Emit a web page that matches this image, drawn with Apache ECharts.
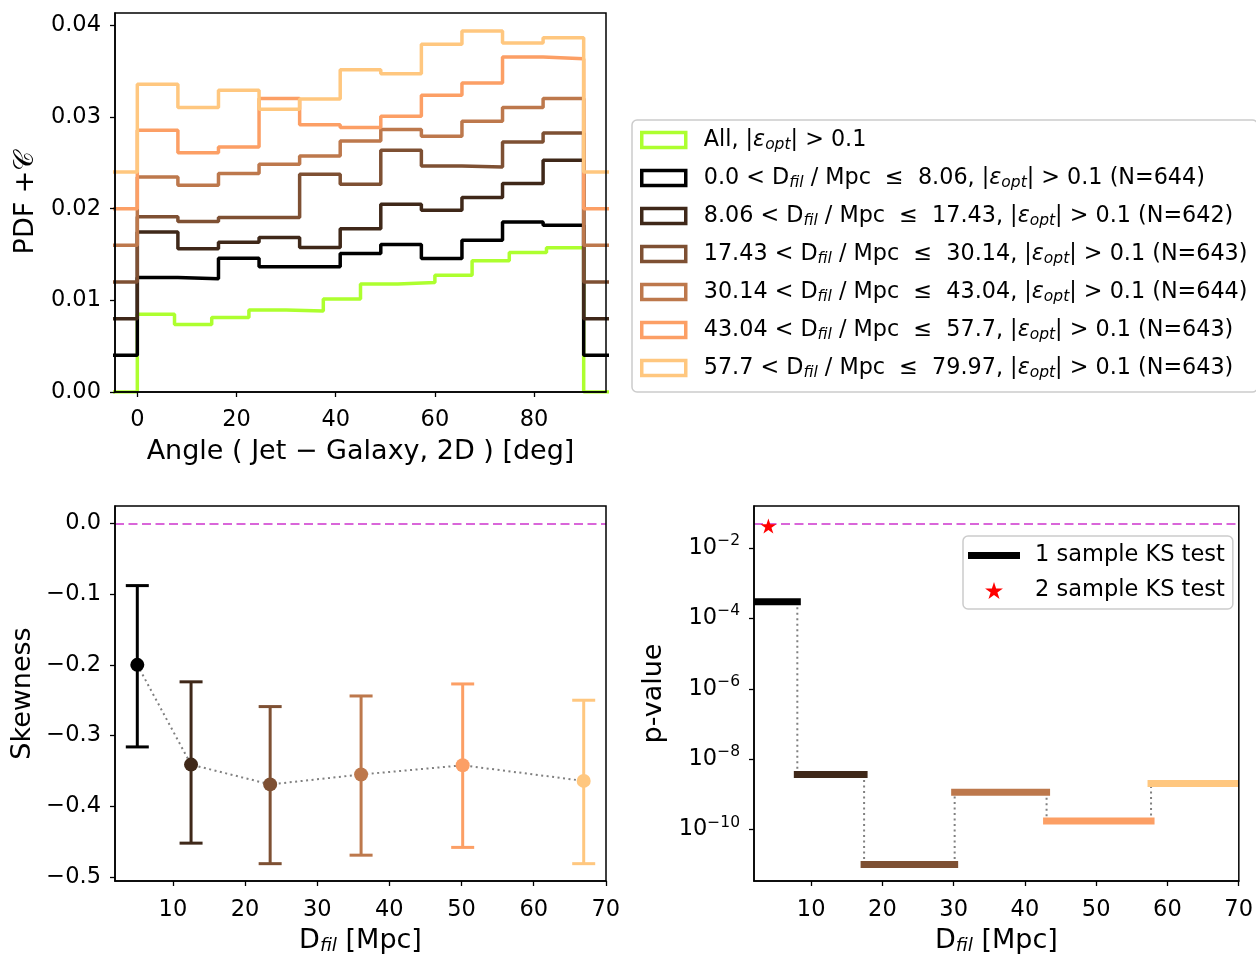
<!DOCTYPE html>
<html><head><meta charset="utf-8">
<script src="https://cdn.jsdelivr.net/npm/echarts@6/dist/echarts.min.js"></script>
<style>html,body{margin:0;padding:0;background:#fff}#c{width:1256px;height:957px}</style>
</head><body><div id="c"></div>
<script>
// ---------------- data ----------------
const angleRange = [0, 90];
const angleTicks = [0, 20, 40, 60, 80];
const pdfTicks = [0, 0.01, 0.02, 0.03, 0.04];
const histNames = [
  'All, |ε_opt| > 0.1',
  '0.0 < D_fil / Mpc  ≤  8.06, |ε_opt| > 0.1 (N=644)',
  '8.06 < D_fil / Mpc  ≤  17.43, |ε_opt| > 0.1 (N=642)',
  '17.43 < D_fil / Mpc  ≤  30.14, |ε_opt| > 0.1 (N=643)',
  '30.14 < D_fil / Mpc  ≤  43.04, |ε_opt| > 0.1 (N=644)',
  '43.04 < D_fil / Mpc  ≤  57.7, |ε_opt| > 0.1 (N=643)',
  '57.7 < D_fil / Mpc  ≤  79.97, |ε_opt| > 0.1 (N=643)'
];
const pdfOffsets = [0, 0.004, 0.008, 0.012, 0.016, 0.020, 0.024];
const pdfAll = [0.00847, 0.00737, 0.00814, 0.00894, 0.00883, 0.01014, 0.01177, 0.01195, 0.01275, 0.01431, 0.01522, 0.01573];
const pdfD1 = [0.0085, 0.00835, 0.0106, 0.00966, 0.00966, 0.01111, 0.01209, 0.01057, 0.01257, 0.01456, 0.0142];
const pdfD2 = [0.00947, 0.00762, 0.00835, 0.00886, 0.00777, 0.0098, 0.01249, 0.01184, 0.01322, 0.01474, 0.01729];
const pdfD3 = [0.00711, 0.0066, 0.00704, 0.00704, 0.01176, 0.01067, 0.01438, 0.01267, 0.01256, 0.01528, 0.01627];
const pdfD4 = [0.00747, 0.00656, 0.00783, 0.00885, 0.00976, 0.01139, 0.01263, 0.0119, 0.01354, 0.01503, 0.01601];
const pdfD5 = [0.00856, 0.00609, 0.00674, 0.01201, 0.00917, 0.00885, 0.01008, 0.01237, 0.01371, 0.01655, 0.01637];
const pdfD6 = [0.00957, 0.00703, 0.00892, 0.00684, 0.00797, 0.01117, 0.01073, 0.01393, 0.01538, 0.01407, 0.01466];

const dfilTicks = [10, 20, 30, 40, 50, 60, 70];
const dfilMean = [5.07, 12.52, 23.48, 36.08, 50.16, 66.93];
const skewness = [-0.200, -0.341, -0.369, -0.355, -0.342, -0.364];
const skewUpper = [-0.088, -0.224, -0.259, -0.244, -0.227, -0.250];
const skewLower = [-0.316, -0.452, -0.481, -0.469, -0.458, -0.481];
const skewTicks = [0, -0.1, -0.2, -0.3, -0.4, -0.5];
const skewRef = 0;

const dfilEdges = [0, 8.06, 17.43, 30.14, 43.04, 57.7, 79.97];
const pvalOne = [2.97e-4, 3.66e-9, 1.02e-11, 1.15e-9, 1.75e-10, 2.05e-9];
const pvalTwoX = [4.0];
const pvalTwo = [0.0425];
const pThreshold = 0.05;
const pTicks = [1e-10, 1e-8, 1e-6, 1e-4, 1e-2];
const ksNames = ['1 sample KS test', '2 sample KS test'];

// ---------------- styles ----------------
const FONT = 'DejaVu Sans';
const copper = ['#000000', '#3f2819', '#7e5033', '#bd784c', '#fc9f65', '#ffc77f'];
const histColors = ['#adff2f'].concat(copper);
const MAG = '#d966d9';
const STAR = 'path://M100 0 L122.45 69.1 L195.1 69.1 L136.3 111.8 L158.8 180.9 L100 138.2 L41.2 180.9 L63.7 111.8 L4.9 69.1 L77.55 69.1 Z';
const TICK = 22.5, NAME = 27, LEG = 22.3;

function richify(s) {
  return s.split(/(D_fil|ε_opt)/).filter(t => t.length).map(t =>
    t === 'D_fil' ? '{r|D}{sub|fil}' : (t === 'ε_opt' ? '{it|ε}{sub|opt}' : '{r|' + t + '}')).join('');
}
const richLeg = {
  r: {fontFamily: FONT, fontSize: LEG, lineHeight: 26, color: '#000'},
  it: {fontFamily: FONT, fontSize: LEG, lineHeight: 26, fontStyle: 'italic', color: '#000'},
  sub: {fontFamily: FONT, fontSize: 15.5, lineHeight: 13, fontStyle: 'italic', verticalAlign: 'bottom', color: '#000'},
  sp: {width: 13}
};

function stepPoints(vals, C) {
  const w = (angleRange[1] - angleRange[0]) / vals.length;
  const pts = [[-20, C], [angleRange[0], C]];
  vals.forEach((v, i) => {
    pts.push([angleRange[0] + i * w, v + C], [angleRange[0] + (i + 1) * w, v + C]);
  });
  pts.push([angleRange[1], C], [120, C]);
  return pts;
}

function axisCommon(extra) {
  return Object.assign({
    splitLine: {show: false},
    axisLine: {onZero: false, lineStyle: {color: '#000', width: 1.5}},
    axisTick: {length: 5, lineStyle: {color: '#000', width: 1.3}},
    axisLabel: {fontFamily: FONT, fontSize: TICK, color: '#000'},
    nameTextStyle: {fontFamily: FONT, fontSize: NAME, color: '#000'},
    nameLocation: 'middle', z: 10
  }, extra);
}
const dfilName = '{a|D}{s|fil}{a| [Mpc]}';
const dfilRich = {a: {fontFamily: FONT, fontSize: NAME, lineHeight: 30, color: '#000'},
  s: {fontFamily: FONT, fontSize: 18.5, lineHeight: 17, fontStyle: 'italic', verticalAlign: 'bottom', color: '#000'}};

const hists = [pdfAll, pdfD1, pdfD2, pdfD3, pdfD4, pdfD5, pdfD6];
const series = [];
hists.forEach((h, k) => {
  series.push({
    type: 'line', name: histNames[k], xAxisIndex: 0, yAxisIndex: 0,
    data: stepPoints(h, pdfOffsets[k]), showSymbol: false, symbol: 'none',
    lineStyle: {color: histColors[k], width: 3.5}, itemStyle: {color: histColors[k]},
    z: 2 + k * 0.01, clip: true
  });
});

// skewness: dotted connector
series.push({
  type: 'line', xAxisIndex: 1, yAxisIndex: 1, symbol: 'none',
  data: dfilMean.map((x, i) => [x, skewness[i]]),
  lineStyle: {color: '#808080', width: 2, type: [2, 3.5]}, z: 2,
  markLine: {silent: true, symbol: 'none', label: {show: false},
    lineStyle: {color: MAG, width: 2.2, type: [9, 4.5]}, data: [{yAxis: skewRef}]}
});
series.push({
  type: 'custom', xAxisIndex: 1, yAxisIndex: 1, z: 3,
  data: dfilMean.map((x, i) => [x, skewLower[i], skewUpper[i], i]),
  encode: {x: 0, y: [1, 2]},
  renderItem: function (params, api) {
    const x = api.value(0), lo = api.value(1), hi = api.value(2), i = api.value(3);
    const a = api.coord([x, lo]), b = api.coord([x, hi]);
    const cap = 11.5, col = copper[i];
    const st = {stroke: col, lineWidth: 3};
    return {type: 'group', children: [
      {type: 'line', shape: {x1: a[0], y1: a[1], x2: b[0], y2: b[1]}, style: st},
      {type: 'line', shape: {x1: a[0] - cap, y1: a[1], x2: a[0] + cap, y2: a[1]}, style: st},
      {type: 'line', shape: {x1: b[0] - cap, y1: b[1], x2: b[0] + cap, y2: b[1]}, style: st}
    ]};
  }
});
series.push({
  type: 'scatter', xAxisIndex: 1, yAxisIndex: 1, z: 4, symbolSize: 14,
  data: dfilMean.map((x, i) => ({value: [x, skewness[i]], itemStyle: {color: copper[i], opacity: 1}}))
});

// p-values
series.push({
  type: 'custom', xAxisIndex: 2, yAxisIndex: 2, z: 2, clip: true,
  data: pvalOne.slice(1).map((p, i) => [dfilEdges[i + 1], pvalOne[i], p]),
  encode: {x: 0, y: [1, 2]},
  renderItem: function (params, api) {
    const a = api.coord([api.value(0), api.value(1)]), b = api.coord([api.value(0), api.value(2)]);
    return {type: 'line', shape: {x1: a[0], y1: a[1], x2: b[0], y2: b[1]},
      style: {stroke: '#808080', lineWidth: 2, lineDash: [2, 3.5]}};
  }
});
series.push({
  type: 'custom', name: ksNames[0], xAxisIndex: 2, yAxisIndex: 2, z: 3, clip: true,
  itemStyle: {color: '#000'},
  data: pvalOne.map((p, i) => [dfilEdges[i], dfilEdges[i + 1], p, i]),
  encode: {x: [0, 1], y: 2},
  renderItem: function (params, api) {
    const a = api.coord([api.value(0), api.value(2)]), b = api.coord([api.value(1), api.value(2)]);
    return {type: 'line', shape: {x1: a[0], y1: a[1], x2: b[0], y2: b[1]},
      style: {stroke: copper[api.value(3)], lineWidth: 7, lineCap: 'square'}};
  },
  markLine: {silent: true, symbol: 'none', label: {show: false},
    lineStyle: {color: MAG, width: 2.2, type: [9, 4.5]}, data: [{yAxis: pThreshold}]}
});
series.push({
  type: 'scatter', name: ksNames[1], xAxisIndex: 2, yAxisIndex: 2, z: 5,
  symbol: STAR, symbolSize: [16, 15], itemStyle: {color: '#ff0000', opacity: 1},
  data: pvalTwoX.map((x, i) => [x, pvalTwo[i]])
});

const option = {
  animation: false,
  backgroundColor: '#fff',
  grid: [
    {left: 115, top: 13, width: 491, height: 379, show: true, borderColor: '#000', borderWidth: 1.5, z: 10, backgroundColor: 'transparent'},
    {left: 115, top: 506, width: 491, height: 379, show: true, borderColor: '#000', borderWidth: 1.5, z: 10, backgroundColor: 'transparent'},
    {left: 754, top: 506, width: 491, height: 379, show: true, borderColor: '#000', borderWidth: 1.5, z: 10, backgroundColor: 'transparent'}
  ],
  xAxis: [
    axisCommon({type: 'value', gridIndex: 0, min: -4.5, max: 94.5,
      name: 'Angle ( Jet − Galaxy, 2D ) [deg]', nameGap: 46,
      axisTick: {length: 5, lineStyle: {color: '#000', width: 1.3}, customValues: angleTicks},
      axisLabel: {fontFamily: FONT, fontSize: TICK, color: '#000', margin: 17, customValues: angleTicks}}),
    axisCommon({type: 'value', gridIndex: 1, min: 1.98, max: 70.02,
      name: dfilName, nameGap: 45, nameTextStyle: {fontFamily: FONT, fontSize: NAME, color: '#000', rich: dfilRich},
      axisTick: {length: 5, lineStyle: {color: '#000', width: 1.3}, customValues: dfilTicks},
      axisLabel: {fontFamily: FONT, fontSize: TICK, color: '#000', margin: 18, customValues: dfilTicks}}),
    axisCommon({type: 'value', gridIndex: 2, min: 1.98, max: 70.02,
      name: dfilName, nameGap: 45, nameTextStyle: {fontFamily: FONT, fontSize: NAME, color: '#000', rich: dfilRich},
      axisTick: {length: 5, lineStyle: {color: '#000', width: 1.3}, customValues: dfilTicks},
      axisLabel: {fontFamily: FONT, fontSize: TICK, color: '#000', margin: 18, customValues: dfilTicks}})
  ],
  yAxis: [
    axisCommon({type: 'value', gridIndex: 0, min: 0, max: 0.04135,
      name: 'PDF +𝒞', nameGap: 76,
      axisTick: {length: 5, lineStyle: {color: '#000', width: 1.3}, customValues: pdfTicks},
      axisLabel: {fontFamily: FONT, fontSize: TICK, color: '#000', margin: 14, customValues: pdfTicks,
        formatter: v => v.toFixed(2)}}),
    axisCommon({type: 'value', gridIndex: 1, min: -0.5055, max: 0.0245,
      name: 'Skewness', nameGap: 79,
      axisTick: {length: 5, lineStyle: {color: '#000', width: 1.3}, customValues: skewTicks},
      axisLabel: {fontFamily: FONT, fontSize: TICK, color: '#000', margin: 14, customValues: skewTicks,
        formatter: v => (Math.abs(v) < 1e-9 ? '0.0' : '−' + Math.abs(v).toFixed(1))}}),
    axisCommon({type: 'log', logBase: 10, gridIndex: 2, min: Math.pow(10, -11.463), max: Math.pow(10, -0.803),
      name: 'p-value', nameGap: 87,
      axisTick: {length: 5, lineStyle: {color: '#000', width: 1.3}, customValues: pTicks},
      axisLabel: {fontFamily: FONT, fontSize: TICK, color: '#000', margin: 14, customValues: pTicks,
        formatter: v => '{b|10}{sup|−' + Math.round(-Math.log10(v)) + '}',
        rich: {b: {fontFamily: FONT, fontSize: TICK, lineHeight: 30, color: '#000'},
          sup: {fontFamily: FONT, fontSize: 15.5, lineHeight: 12, verticalAlign: 'top', color: '#000'}}}})
  ],
  legend: [
    {orient: 'vertical', left: 632, top: 120, align: 'left',
      padding: [9, 10, 11, 8], itemGap: 14, itemWidth: 44, itemHeight: 15,
      backgroundColor: 'rgba(255,255,255,0.8)', borderColor: '#cccccc', borderWidth: 1.5, borderRadius: 5,
      icon: 'rect', selectedMode: false,
      data: histNames.map((n, k) => ({name: n, icon: 'rect',
        itemStyle: {color: '#ffffff', borderColor: histColors[k], borderWidth: 3.5}})),
      formatter: n => '{sp| }' + richify(n),
      textStyle: {fontFamily: FONT, fontSize: LEG, color: '#000', rich: richLeg}},
    {orient: 'vertical', left: 963, top: 536, align: 'left',
      padding: [8, 8, 7, 5], itemGap: 12, itemWidth: 52, itemHeight: 17,
      backgroundColor: 'rgba(255,255,255,0.8)', borderColor: '#cccccc', borderWidth: 1.5, borderRadius: 5,
      selectedMode: false, symbolKeepAspect: true,
      data: [
        {name: ksNames[0], icon: 'path://M0 0H52V7H0Z', itemStyle: {color: '#000'}},
        {name: ksNames[1], icon: STAR, itemStyle: {color: '#ff0000'}}
      ],
      formatter: n => '{sp| }{r|' + n + '}',
      textStyle: {fontFamily: FONT, fontSize: 22.5, color: '#000', rich: {r: Object.assign({}, richLeg.r, {fontSize: 22.5}), sp: {width: 10}}}}
  ],
  series: series
};
const chart = echarts.init(document.getElementById('c'), null, {renderer: 'canvas'});
chart.setOption(option);
</script></body></html>
